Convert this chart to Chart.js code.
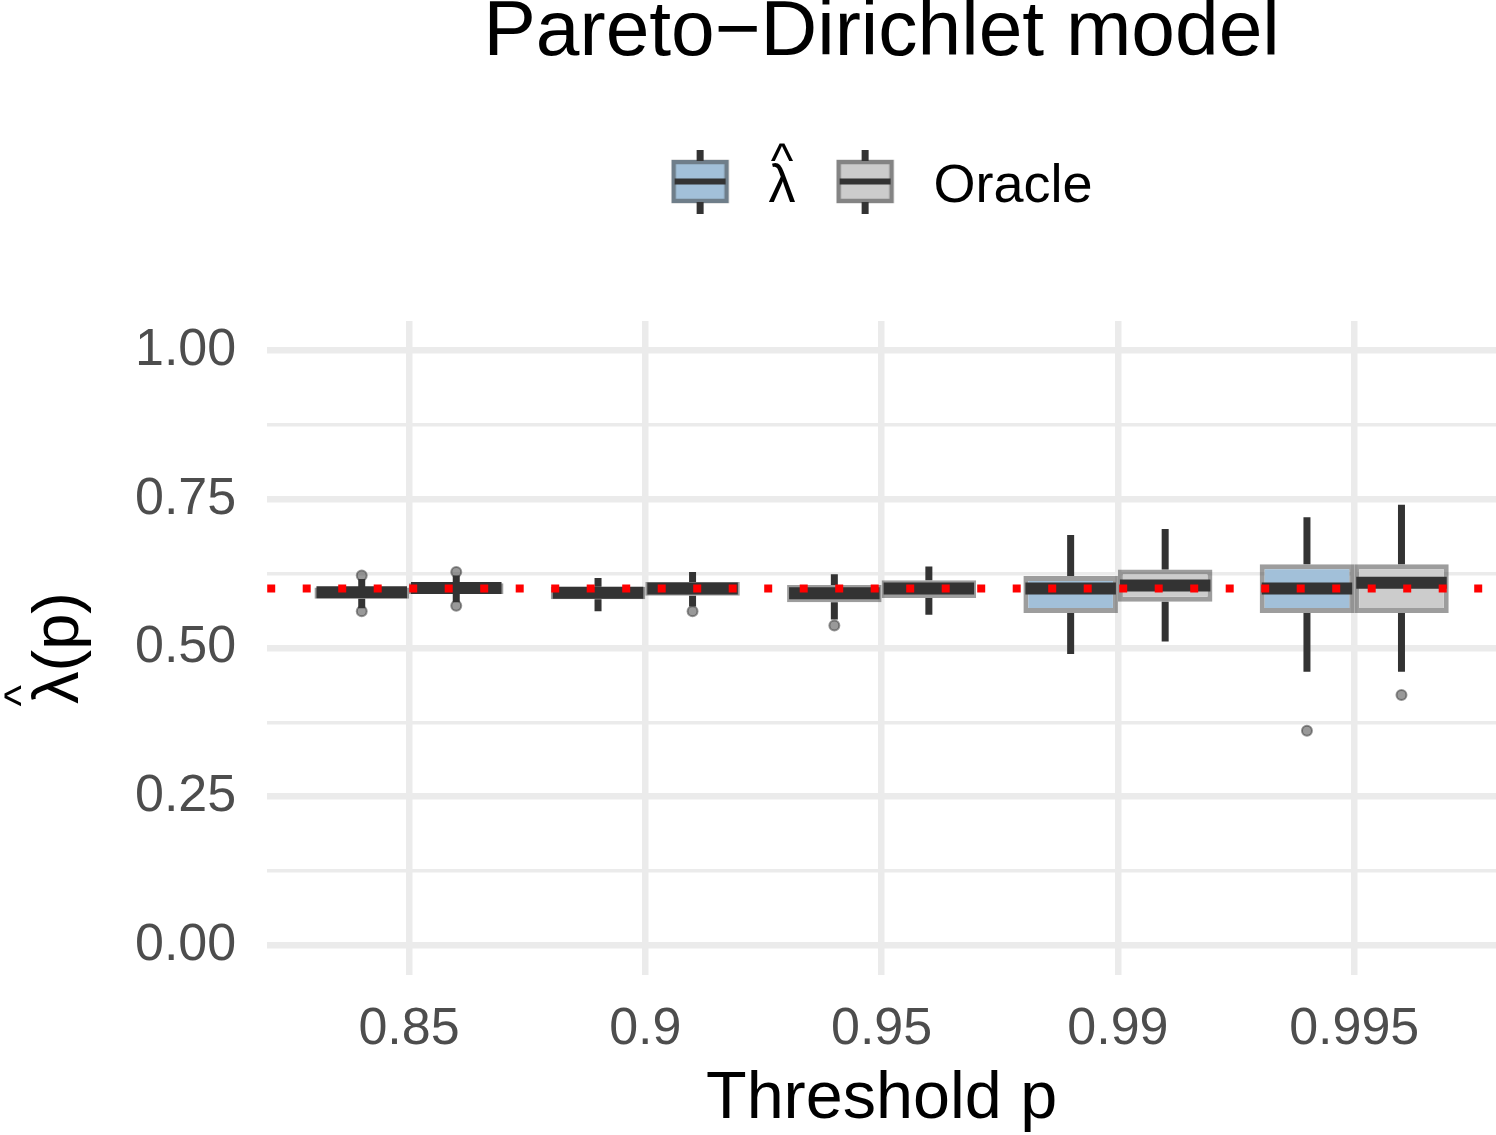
<!DOCTYPE html>
<html>
<head>
<meta charset="utf-8">
<script src="https://cdn.jsdelivr.net/npm/chart.js@4/dist/chart.umd.min.js"></script>
<style>
  body { margin: 0; background: #fff; }
  #wrap { width: 1496px; height: 1135px; }
</style>
</head>
<body>
<div id="wrap"><canvas id="chart"></canvas></div>
<script>
// thresholds on the x axis
const thresholds = ['0.85', '0.9', '0.95', '0.99', '0.995'];

// lambda hat boxplot stats
const lamLow  = [0.567, 0.562, 0.548, 0.490, 0.460];
const lamQ1   = [0.583, 0.582, 0.577, 0.559, 0.559];
const lamMed  = [0.594, 0.593, 0.592, 0.600, 0.600];
const lamQ3   = [0.602, 0.603, 0.606, 0.621, 0.641];
const lamHigh = [0.616, 0.618, 0.624, 0.690, 0.720];
const lamOut  = [[0.622, 0.562], [], [0.538], [], [0.361]];

// oracle boxplot stats
const oraLow  = [0.577, 0.570, 0.556, 0.511, 0.460];
const oraQ1   = [0.591, 0.588, 0.584, 0.578, 0.559];
const oraMed  = [0.601, 0.600, 0.600, 0.605, 0.610];
const oraQ3   = [0.609, 0.611, 0.614, 0.632, 0.641];
const oraHigh = [0.622, 0.628, 0.637, 0.700, 0.741];
const oraOut  = [[0.628, 0.571], [0.562], [], [], [0.421]];

const trueLambda = 0.6;
const yTicks = [0, 0.125, 0.25, 0.375, 0.5, 0.625, 0.75, 0.875, 1];

const lamFill = '#a2c0d9';
const oraFill = '#cccccc';
const boxEdge = 'rgba(60,60,60,0.5)';
const dark = '#333333';
const family = "'Liberation Sans', Arial, sans-serif";

const yTitleSize = 65;
const yTitlePadTop = 11;
const legendSize = 54;
const legendBoxW = 71;

Chart.defaults.font.family = family;

// legend key: small box with whiskers (drawn in the top 64px of a 74px canvas)
function makeKey(fill) {
    const c = document.createElement('canvas');
    c.width = legendBoxW;
    c.height = 74;
    const g = c.getContext('2d');
    g.fillStyle = fill;
    g.fillRect(1, 10, 57, 43);
    g.strokeStyle = boxEdge;
    g.lineWidth = 4.5;
    g.strokeRect(3, 12, 53, 39);
    g.strokeStyle = dark;
    g.lineWidth = 7;
    g.beginPath();
    g.moveTo(29.5, 0); g.lineTo(29.5, 11);
    g.moveTo(29.5, 52); g.lineTo(29.5, 64);
    g.stroke();
    g.lineWidth = 6;
    g.beginPath();
    g.moveTo(4, 31.5); g.lineTo(55, 31.5);
    g.stroke();
    return c;
}

const boxStats = [
    {low: lamLow, med: lamMed, q1: lamQ1, q3: lamQ3, high: lamHigh, out: lamOut},
    {low: oraLow, med: oraMed, q1: oraQ1, q3: oraQ3, high: oraHigh, out: oraOut}
];

// whiskers, medians, outliers and the reference line
const boxExtras = {
    id: 'boxExtras',
    afterDatasetsDraw(chart) {
        const ctx = chart.ctx;
        const y = chart.scales.y;
        const area = chart.chartArea;
        ctx.save();
        boxStats.forEach((s, d) => {
            const meta = chart.getDatasetMeta(d);
            meta.data.forEach((bar, i) => {
                const x = bar.x;
                const w = bar.width;
                ctx.strokeStyle = dark;
                ctx.lineWidth = 7;
                ctx.beginPath();
                ctx.moveTo(x, y.getPixelForValue(s.q3[i]));
                ctx.lineTo(x, y.getPixelForValue(s.high[i]));
                ctx.moveTo(x, y.getPixelForValue(s.q1[i]));
                ctx.lineTo(x, y.getPixelForValue(s.low[i]));
                ctx.stroke();

                ctx.lineWidth = 12;
                ctx.beginPath();
                ctx.moveTo(x - w / 2 + 2, y.getPixelForValue(s.med[i]));
                ctx.lineTo(x + w / 2 - 2, y.getPixelForValue(s.med[i]));
                ctx.stroke();

                s.out[i].forEach(v => {
                    ctx.beginPath();
                    ctx.arc(x, y.getPixelForValue(v), 5, 0, Math.PI * 2);
                    ctx.fillStyle = 'rgba(51,51,51,0.5)';
                    ctx.fill();
                    ctx.lineWidth = 2;
                    ctx.strokeStyle = 'rgba(51,51,51,0.5)';
                    ctx.stroke();
                });
            });
        });

        const yRef = y.getPixelForValue(trueLambda);
        ctx.strokeStyle = '#ff0000';
        ctx.lineWidth = 8;
        ctx.setLineDash([8, 27.5]);
        ctx.beginPath();
        ctx.moveTo(area.left, yRef);
        ctx.lineTo(area.right, yRef);
        ctx.stroke();
        ctx.restore();
    }
};

// puts a "^" above the lambda in the legend and in the y axis title
function drawHat(ctx, cx, lambdaTop, gap, size) {
    ctx.font = size + 'px ' + family;
    ctx.textAlign = 'center';
    ctx.textBaseline = 'alphabetic';
    const m = ctx.measureText('^');
    ctx.fillText('^', cx, lambdaTop - gap - m.actualBoundingBoxDescent);
}

const hats = {
    id: 'hats',
    afterDraw(chart) {
        const ctx = chart.ctx;
        ctx.save();
        ctx.fillStyle = '#000';

        // legend
        const hb = chart.legend.legendHitBoxes[0];
        ctx.font = legendSize + 'px ' + family;
        ctx.textBaseline = 'middle';
        const ml = ctx.measureText('λ');
        const tx = hb.left + legendBoxW + legendSize / 2;
        const my = hb.top + legendSize / 2;
        drawHat(ctx, tx + ml.width / 2, my - ml.actualBoundingBoxAscent, 2, 48);

        // y axis title, rotated
        const ys = chart.scales.y;
        const tX = ys.left + yTitlePadTop + yTitleSize * 1.2 / 2;
        const tY = (chart.chartArea.top + chart.chartArea.bottom) / 2;
        ctx.translate(tX, tY);
        ctx.rotate(-Math.PI / 2);
        ctx.font = yTitleSize + 'px ' + family;
        ctx.textBaseline = 'middle';
        const wAll = ctx.measureText('λ(p)').width;
        const mt = ctx.measureText('λ');
        drawHat(ctx, -wAll / 2 + mt.width / 2 - 8, -mt.actualBoundingBoxAscent, 10, 46);
        ctx.restore();
    }
};

const lamKey = makeKey(lamFill);
const oraKey = makeKey(oraFill);

const data = {
    datasets: [{
        label: 'λ',
        data: thresholds.map((t, i) => ({x: i, y: [lamQ1[i], lamQ3[i]]})),
        backgroundColor: lamFill,
        borderColor: boxEdge,
        borderWidth: 5,
        borderSkipped: false
    }, {
        label: 'Oracle',
        data: thresholds.map((t, i) => ({x: i, y: [oraQ1[i], oraQ3[i]]})),
        backgroundColor: oraFill,
        borderColor: boxEdge,
        borderWidth: 5,
        borderSkipped: false
    }]
};

const options = {
    responsive: true,
    maintainAspectRatio: false,
    animation: false,
    layout: { padding: { left: 10, right: 0, top: 0, bottom: 0 } },
    datasets: { bar: { categoryPercentage: 0.8, barPercentage: 1, grouped: true } },
    scales: {
        x: {
            type: 'linear',
            min: -0.6,
            max: 4.6,
            offset: false,
            afterBuildTicks: axis => { axis.ticks = thresholds.map((t, i) => ({ value: i })); },
            ticks: {
                callback: v => thresholds[v],
                color: '#4d4d4d',
                font: { size: 52 },
                padding: 23,
                maxRotation: 0
            },
            grid: { color: '#ebebeb', lineWidth: 6.5, drawTicks: false, offset: false },
            border: { display: false },
            title: {
                display: true,
                text: 'Threshold p',
                color: '#000',
                font: { size: 66.5, lineHeight: 1 },
                padding: { top: -17, bottom: 2 }
            }
        },
        y: {
            min: -0.05,
            max: 1.05,
            afterBuildTicks: axis => { axis.ticks = yTicks.map(v => ({ value: v })); },
            ticks: {
                callback: v => (Math.round(v * 1000) % 250 === 0 ? v.toFixed(2) : ''),
                color: '#4d4d4d',
                font: { size: 52 },
                padding: 31
            },
            grid: {
                color: '#ebebeb',
                lineWidth: c => (Math.round(c.tick.value * 1000) % 250 === 0 ? 6.5 : 3.5),
                drawTicks: false
            },
            border: { display: false },
            title: {
                display: true,
                text: 'λ(p)',
                color: '#000',
                font: { size: yTitleSize },
                padding: { top: yTitlePadTop, bottom: 5 }
            }
        }
    },
    plugins: {
        tooltip: { enabled: false },
        title: {
            display: true,
            text: 'Pareto\u2212Dirichlet model',
            color: '#000',
            fullSize: false,
            font: { size: 78.5, weight: 'normal', lineHeight: 0.8 },
            padding: { top: 2, bottom: 55.2 }
        },
        legend: {
            display: true,
            position: 'top',
            fullSize: false,
            labels: {
                usePointStyle: true,
                pointStyleWidth: legendBoxW,
                padding: 40,
                color: '#000',
                font: { size: legendSize },
                generateLabels: () => [
                    { text: 'λ', pointStyle: lamKey, fontColor: '#000', lineWidth: 0, datasetIndex: 0 },
                    { text: 'Oracle', pointStyle: oraKey, fontColor: '#000', lineWidth: 0, datasetIndex: 1 }
                ]
            }
        },
        subtitle: {
            // empty spacer between legend and panel
            display: true,
            text: '',
            weight: 500,
            fullSize: false,
            font: { size: 10 },
            padding: { top: 0, bottom: 85 }
        }
    }
};

window.myChart = new Chart(document.getElementById('chart').getContext('2d'), {
    type: 'bar',
    data: data,
    options: options,
    plugins: [boxExtras, hats]
});
</script>
</body>
</html>
